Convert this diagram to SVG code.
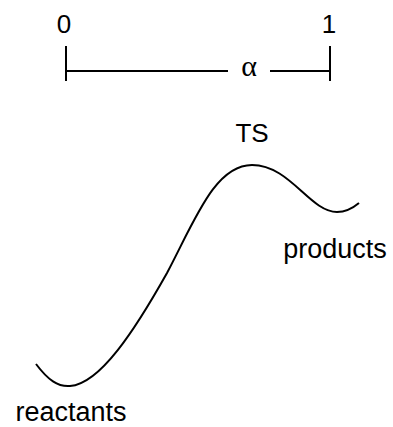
<svg xmlns="http://www.w3.org/2000/svg" width="393" height="427" viewBox="0 0 393 427">
<style>
.ln{stroke:#000;stroke-width:2;fill:none}
.t{font-family:"Liberation Sans",Arial,sans-serif;fill:#000}
</style>
<rect width="393" height="427" fill="#fff"/>
<g id="scale">
<line class="ln" x1="66" y1="46" x2="66" y2="81"/>
<line class="ln" x1="330" y1="46" x2="330" y2="81"/>
<line class="ln" x1="66" y1="71" x2="228" y2="71"/>
<line class="ln" x1="270" y1="71" x2="330" y2="71"/>
<text class="t" x="64" y="33" font-size="26" text-anchor="middle">0</text>
<text class="t" x="329" y="33" font-size="26" text-anchor="middle">1</text>
<text x="249" y="76" font-family="'Liberation Serif','Times New Roman',serif" font-size="30" text-anchor="middle">α</text>
</g>
<g id="curve">
<path class="ln" stroke-width="2.5" d="M36,364 C48,380 58,387 70,386 C100,384 135,330 167,273 C195,220 215,165 252,165 C290,165 310,212 337,212 C346,212 353,208 359,203"/>
</g>
<g id="labels">
<text class="t" x="252" y="142" font-size="26" text-anchor="middle">TS</text>
<text class="t" x="335" y="258" font-size="27" text-anchor="middle">products</text>
<text class="t" x="71" y="421" font-size="27" text-anchor="middle">reactants</text>
</g>
</svg>
